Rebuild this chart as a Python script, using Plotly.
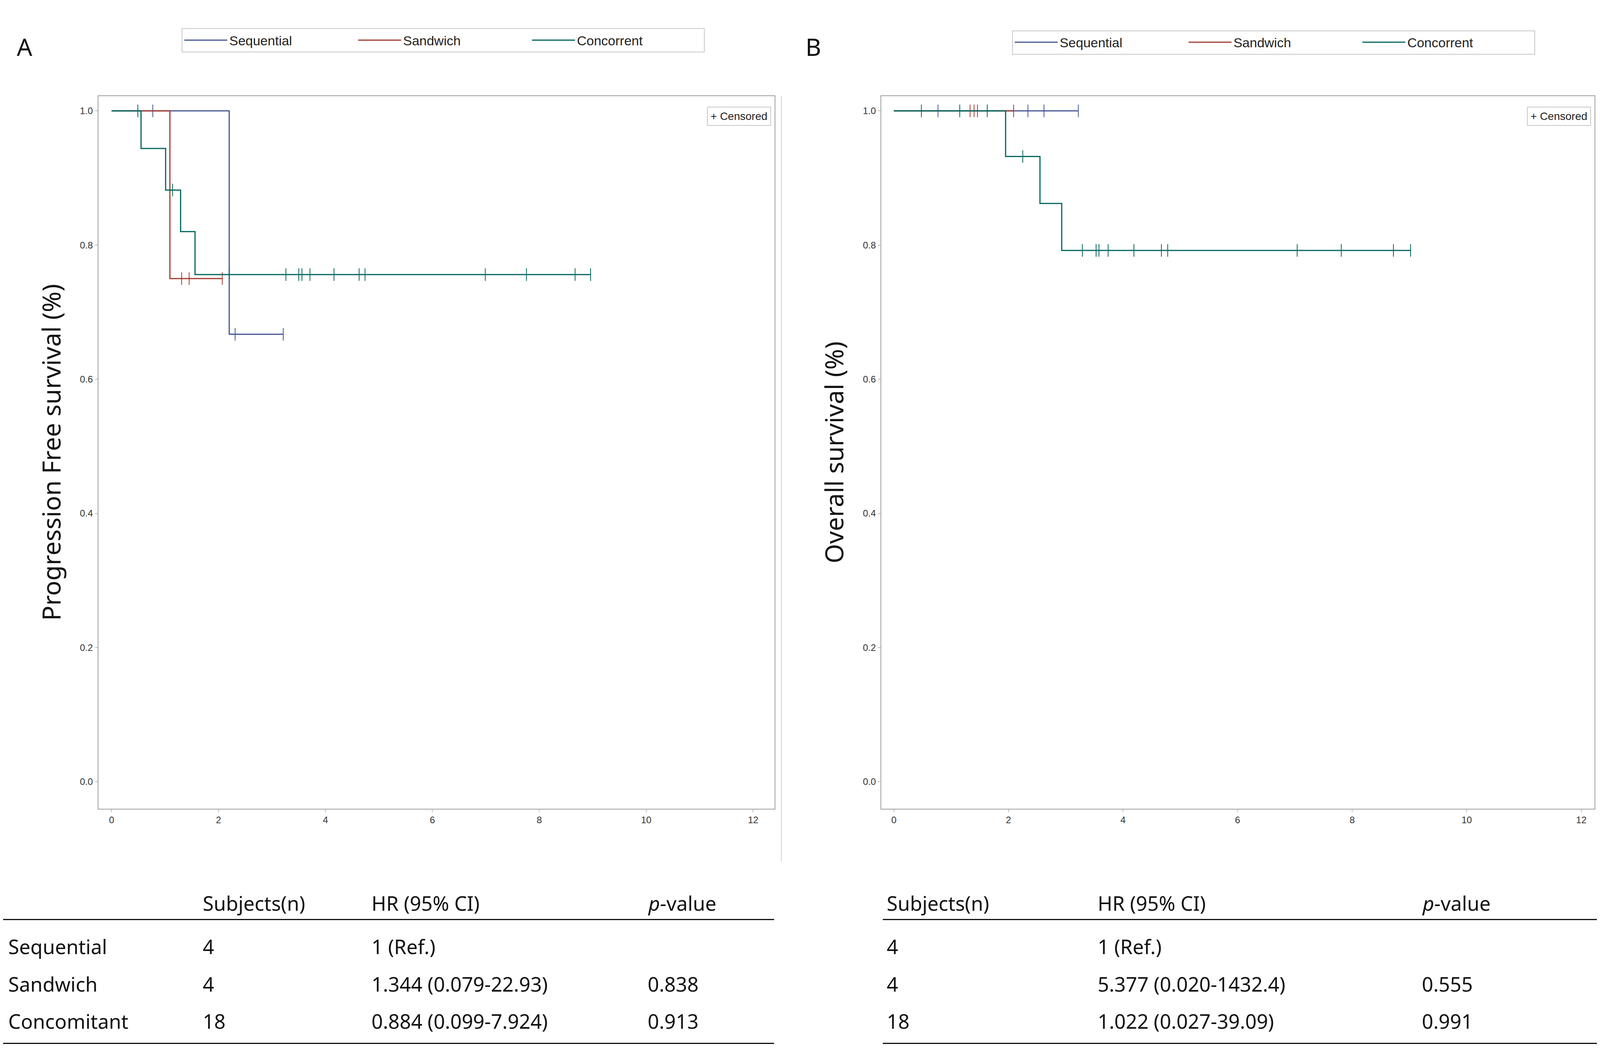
import plotly.graph_objects as go

# ---------------- data ----------------
groups = ["Sequential", "Sandwich", "Concorrent"]
colors = ["#445694", "#A23A2E", "#01665E"]

# PFS (panel A): event times and survival after each event, censor times
pfs_seq_events = [2.2]; pfs_seq_surv = [0.667]; pfs_seq_cens = [0.77, 2.31, 3.21]
pfs_san_events = [1.09]; pfs_san_surv = [0.75]; pfs_san_cens = [1.31, 1.45, 2.07]
pfs_con_events = [0.55, 1.01, 1.29, 1.56]; pfs_con_surv = [0.944, 0.882, 0.82, 0.756]
pfs_con_cens = [0.49, 1.14, 2.2, 3.26, 3.5, 3.56, 3.71, 4.16, 4.63, 4.74, 6.99, 7.76, 8.67, 8.96]

# OS (panel B)
os_seq_events = []; os_seq_surv = []; os_seq_cens = [0.77, 2.34, 2.62, 3.22]
os_san_events = []; os_san_surv = []; os_san_cens = [1.33, 1.4, 1.46, 2.09]
os_con_events = [1.95, 2.55, 2.93]; os_con_surv = [0.932, 0.862, 0.792]
os_con_cens = [0.48, 1.15, 1.63, 2.25, 3.29, 3.53, 3.58, 3.74, 4.19, 4.67, 4.78, 7.04, 7.81, 8.72, 9.02]

x_ticks = [0, 2, 4, 6, 8, 10, 12]
y_ticks = [0.0, 0.2, 0.4, 0.6, 0.8, 1.0]

table_cols = ["Subjects(n)", "HR (95% CI)", "<i>p</i>-value"]
table_rows = ["Sequential", "Sandwich", "Concomitant"]
subjects = ["4", "4", "18"]
hr_a = ["1 (Ref.)", "1.344 (0.079-22.93)", "0.884 (0.099-7.924)"]
p_a = ["", "0.838", "0.913"]
hr_b = ["1 (Ref.)", "5.377 (0.020-1432.4)", "1.022 (0.027-39.09)"]
p_b = ["", "0.555", "0.991"]

# ---------------- figure ----------------
fig = go.Figure()
TICKFONT = dict(family="Liberation Sans Narrow, Liberation Sans, Arial", size=24, color="#333")
LEGFONT = dict(family="Liberation Sans Narrow, Liberation Sans, Arial", size=34, color="#222")


def step_curve(events, surv, cens):
    end = max(cens + events)
    xs, ys = [0.0], [1.0]
    for t, s in zip(events, surv):
        xs.append(t); ys.append(s)
    xs.append(end); ys.append(ys[-1])
    cy = []
    for c in cens:
        v = 1.0
        for t, s in zip(events, surv):
            if t <= c:
                v = s
        cy.append(v)
    return xs, ys, cy


def add_panel(data, xa, ya, legend):
    for (ev, sv, ce), name, col in zip(data, groups, colors):
        xs, ys, cy = step_curve(ev, sv, ce)
        fig.add_trace(go.Scatter(x=xs, y=ys, mode="lines", line=dict(color=col, width=3, shape="hv"),
                                 name=name, xaxis=xa, yaxis=ya, legend=legend))
        fig.add_trace(go.Scatter(x=ce, y=cy, mode="markers", showlegend=False, xaxis=xa, yaxis=ya,
                                 marker=dict(symbol="line-ns", size=23, line=dict(color=col, width=2))))


add_panel([(pfs_seq_events, pfs_seq_surv, pfs_seq_cens),
           (pfs_san_events, pfs_san_surv, pfs_san_cens),
           (pfs_con_events, pfs_con_surv, pfs_con_cens)], "x", "y", "legend")
add_panel([(os_seq_events, os_seq_surv, os_seq_cens),
           (os_san_events, os_san_surv, os_san_cens),
           (os_con_events, os_con_surv, os_con_cens)], "x2", "y2", "legend2")

ax_common = dict(showgrid=False, zeroline=False, showline=True, mirror=True, linecolor="#9aa0a0",
                 linewidth=2, ticks="outside", ticklen=7, tickcolor="#888", tickfont=TICKFONT)
ydom = [0.229, 0.911]
fig.update_layout(
    xaxis=dict(domain=[0.0597, 0.484], range=[-0.25, 12.4], tickvals=x_ticks, anchor="y", **ax_common),
    yaxis=dict(domain=ydom, range=[-0.04, 1.022], tickvals=y_ticks, tickformat=".1f", anchor="x",
               title=dict(text="Progression Free survival (%)", font=dict(family="Noto Sans", size=64, color="#111"), standoff=28),
               **ax_common),
    xaxis2=dict(domain=[0.551, 0.9985], range=[-0.22, 12.23], tickvals=x_ticks, anchor="y2", **ax_common),
    yaxis2=dict(domain=ydom, range=[-0.04, 1.022], tickvals=y_ticks, tickformat=".1f", anchor="x2",
                title=dict(text="Overall survival (%)", font=dict(family="Noto Sans", size=64, color="#111"), standoff=28),
                **ax_common),
)

leg = dict(orientation="h", xanchor="left", yanchor="top", bordercolor="#c8c8c8", borderwidth=2,
           bgcolor="white", font=LEGFONT, entrywidth=320, itemwidth=110)
fig.update_layout(
    legend=dict(x=0.112, y=0.976, **leg),
    legend2=dict(x=0.633, y=0.974, **leg),
    margin=dict(l=0, r=0, t=0, b=0), plot_bgcolor="white", paper_bgcolor="white",
)

ann = []
ann.append(dict(text="A", x=0.008, y=0.975, xref="paper", yref="paper", xanchor="left", yanchor="top",
                showarrow=False, font=dict(family="Noto Sans", size=62, color="#111")))
ann.append(dict(text="B", x=0.503, y=0.975, xref="paper", yref="paper", xanchor="left", yanchor="top",
                showarrow=False, font=dict(family="Noto Sans", size=62, color="#111")))
for xr, yrf in [("x domain", "y domain"), ("x2 domain", "y2 domain")]:
    ann.append(dict(text="+ Censored", x=0.995, y=0.985, xref=xr, yref=yrf,
                    xanchor="right", yanchor="top", showarrow=False, bordercolor="#c8c8c8", borderwidth=2,
                    borderpad=7, bgcolor="white", font=dict(family="Liberation Sans Narrow, Liberation Sans", size=28, color="#222")))

TF = dict(family="Noto Sans", size=51, color="#111")
yh, yr = 1 - 603 / 700, [1 - 632 / 700, 1 - 657 / 700, 1 - 682 / 700]
colA = [192 / 1540, 355 / 1540, 622 / 1540]
colB = [853 / 1540, 1057 / 1540, 1370 / 1540]
for cols in (colA, colB):
    for cx, t in zip(cols, table_cols):
        ann.append(dict(text=t, x=cx, y=yh, xref="paper", yref="paper", xanchor="left", yanchor="middle", showarrow=False, font=TF))
for i in range(3):
    rowA = [table_rows[i], subjects[i], hr_a[i], p_a[i]]
    for cx, t in zip([4 / 1540] + colA, rowA):
        ann.append(dict(text=t, x=cx, y=yr[i], xref="paper", yref="paper", xanchor="left", yanchor="middle", showarrow=False, font=TF))
    rowB = [subjects[i], hr_b[i], p_b[i]]
    for cx, t in zip(colB, rowB):
        ann.append(dict(text=t, x=cx, y=yr[i], xref="paper", yref="paper", xanchor="left", yanchor="middle", showarrow=False, font=TF))
fig.update_layout(annotations=ann)

shapes = []
for x0, x1 in [(0, 745 / 1540), (850 / 1540, 1)]:
    for yy in [1 - 614 / 700, 1 - 697 / 700]:
        shapes.append(dict(type="line", xref="paper", yref="paper", x0=x0, x1=x1, y0=yy, y1=yy,
                           line=dict(color="#111", width=3)))
shapes.append(dict(type="line", xref="paper", yref="paper", x0=752 / 1540, x1=752 / 1540, y0=1 - 575 / 700, y1=1 - 62 / 700,
                   line=dict(color="#d0d0d0", width=2)))
fig.update_layout(shapes=shapes)

fig.write_html("out.html")
